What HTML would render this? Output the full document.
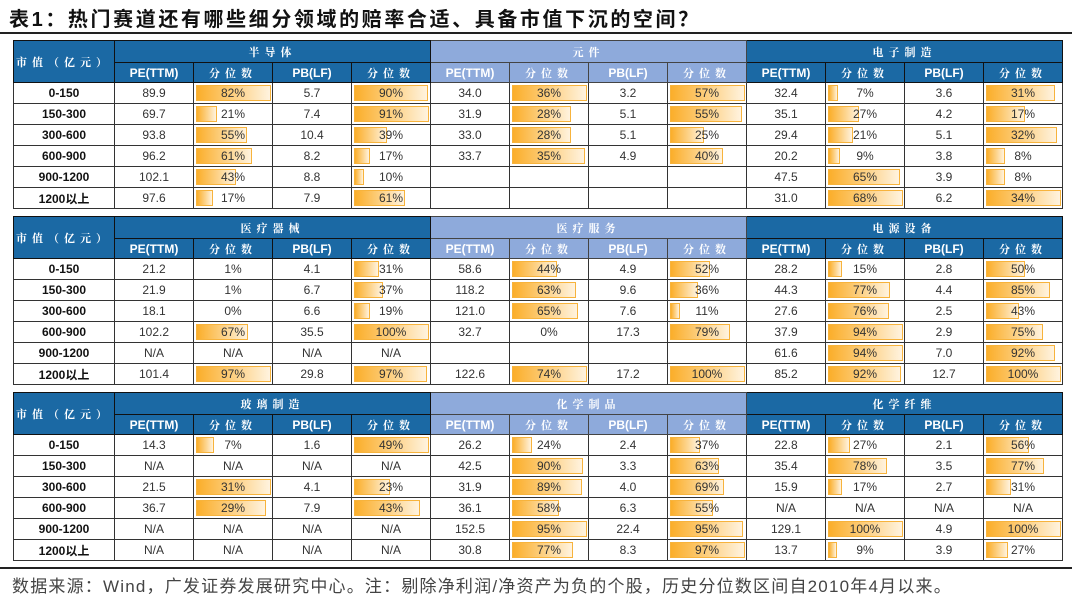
<!DOCTYPE html>
<html><head><meta charset="utf-8">
<style>
body{margin:0;width:1080px;height:602px;background:#fff;position:relative;overflow:hidden;font-family:"Liberation Sans","Noto Sans CJK SC",sans-serif;}
.title{position:absolute;left:9px;top:3px;font-size:20px;font-weight:bold;color:#111;font-family:"Liberation Sans","Noto Sans CJK SC",sans-serif;letter-spacing:2.6px}
.hl{position:absolute;left:0;width:1072px;height:2px;background:#222}
table{position:absolute;left:13px;border-collapse:collapse;table-layout:fixed;width:1050px;border:1.5px solid #222}
td{border:1px solid #333;text-align:center;font-size:12px;color:#333;padding:0;position:relative;overflow:hidden;white-space:nowrap}
tr.h1 td{height:21px}
tr.h2 td{height:19px}
tr.d td{height:20px}
.hd{background:#1b69a4;color:#fff;font-weight:bold;border-color:#111}
.lt{background:#8eaadb;color:#fff;font-weight:bold;border-color:#444}
.cn{font-size:11px;letter-spacing:5px;font-family:"Noto Serif CJK SC",serif}
.lab{font-weight:bold;color:#111}
.b span{position:relative;z-index:1}
.b i{position:absolute;left:2px;top:2px;bottom:2px;background:linear-gradient(to right,#fbae2a,#fdd38a 55%,#fff3df);border:1px solid #f7b33c;box-sizing:border-box}
.foot{position:absolute;left:12px;top:572px;font-size:17px;color:#444;letter-spacing:1.2px}
</style></head><body>
<div class="title">表1：热门赛道还有哪些细分领域的赔率合适、具备市值下沉的空间？</div>
<div class="hl" style="top:32px"></div>

<table style="top:40px">
<colgroup><col style="width:101px"><col span="12" style="width:79px"></colgroup>
<tr class="h1"><td class="hd cn" rowspan="2">市值（亿元）</td><td class="hd cn" colspan="4">半导体</td><td class="lt cn" colspan="4">元件</td><td class="hd cn" colspan="4">电子制造</td></tr>
<tr class="h2"><td class="hd">PE(TTM)</td><td class="hd cn">分位数</td><td class="hd">PB(LF)</td><td class="hd cn">分位数</td><td class="lt">PE(TTM)</td><td class="lt cn">分位数</td><td class="lt">PB(LF)</td><td class="lt cn">分位数</td><td class="hd">PE(TTM)</td><td class="hd cn">分位数</td><td class="hd">PB(LF)</td><td class="hd cn">分位数</td></tr>
<tr class="d"><td class="lab">0-150</td><td>89.9</td><td class="b">82%</td><td>5.7</td><td class="b">90%</td><td>34.0</td><td class="b">36%</td><td>3.2</td><td class="b">57%</td><td>32.4</td><td class="b">7%</td><td>3.6</td><td class="b">31%</td></tr>
<tr class="d"><td class="lab">150-300</td><td>69.7</td><td class="b">21%</td><td>7.4</td><td class="b">91%</td><td>31.9</td><td class="b">28%</td><td>5.1</td><td class="b">55%</td><td>35.1</td><td class="b">27%</td><td>4.2</td><td class="b">17%</td></tr>
<tr class="d"><td class="lab">300-600</td><td>93.8</td><td class="b">55%</td><td>10.4</td><td class="b">39%</td><td>33.0</td><td class="b">28%</td><td>5.1</td><td class="b">25%</td><td>29.4</td><td class="b">21%</td><td>5.1</td><td class="b">32%</td></tr>
<tr class="d"><td class="lab">600-900</td><td>96.2</td><td class="b">61%</td><td>8.2</td><td class="b">17%</td><td>33.7</td><td class="b">35%</td><td>4.9</td><td class="b">40%</td><td>20.2</td><td class="b">9%</td><td>3.8</td><td class="b">8%</td></tr>
<tr class="d"><td class="lab">900-1200</td><td>102.1</td><td class="b">43%</td><td>8.8</td><td class="b">10%</td><td></td><td></td><td></td><td></td><td>47.5</td><td class="b">65%</td><td>3.9</td><td class="b">8%</td></tr>
<tr class="d"><td class="lab">1200以上</td><td>97.6</td><td class="b">17%</td><td>7.9</td><td class="b">61%</td><td></td><td></td><td></td><td></td><td>31.0</td><td class="b">68%</td><td>6.2</td><td class="b">34%</td></tr>
</table>

<table style="top:216px">
<colgroup><col style="width:101px"><col span="12" style="width:79px"></colgroup>
<tr class="h1"><td class="hd cn" rowspan="2">市值（亿元）</td><td class="hd cn" colspan="4">医疗器械</td><td class="lt cn" colspan="4">医疗服务</td><td class="hd cn" colspan="4">电源设备</td></tr>
<tr class="h2"><td class="hd">PE(TTM)</td><td class="hd cn">分位数</td><td class="hd">PB(LF)</td><td class="hd cn">分位数</td><td class="lt">PE(TTM)</td><td class="lt cn">分位数</td><td class="lt">PB(LF)</td><td class="lt cn">分位数</td><td class="hd">PE(TTM)</td><td class="hd cn">分位数</td><td class="hd">PB(LF)</td><td class="hd cn">分位数</td></tr>
<tr class="d"><td class="lab">0-150</td><td>21.2</td><td class="b">1%</td><td>4.1</td><td class="b">31%</td><td>58.6</td><td class="b">44%</td><td>4.9</td><td class="b">52%</td><td>28.2</td><td class="b">15%</td><td>2.8</td><td class="b">50%</td></tr>
<tr class="d"><td class="lab">150-300</td><td>21.9</td><td class="b">1%</td><td>6.7</td><td class="b">37%</td><td>118.2</td><td class="b">63%</td><td>9.6</td><td class="b">36%</td><td>44.3</td><td class="b">77%</td><td>4.4</td><td class="b">85%</td></tr>
<tr class="d"><td class="lab">300-600</td><td>18.1</td><td class="b">0%</td><td>6.6</td><td class="b">19%</td><td>121.0</td><td class="b">65%</td><td>7.6</td><td class="b">11%</td><td>27.6</td><td class="b">76%</td><td>2.5</td><td class="b">43%</td></tr>
<tr class="d"><td class="lab">600-900</td><td>102.2</td><td class="b">67%</td><td>35.5</td><td class="b">100%</td><td>32.7</td><td class="b">0%</td><td>17.3</td><td class="b">79%</td><td>37.9</td><td class="b">94%</td><td>2.9</td><td class="b">75%</td></tr>
<tr class="d"><td class="lab">900-1200</td><td>N/A</td><td>N/A</td><td>N/A</td><td>N/A</td><td></td><td></td><td></td><td></td><td>61.6</td><td class="b">94%</td><td>7.0</td><td class="b">92%</td></tr>
<tr class="d"><td class="lab">1200以上</td><td>101.4</td><td class="b">97%</td><td>29.8</td><td class="b">97%</td><td>122.6</td><td class="b">74%</td><td>17.2</td><td class="b">100%</td><td>85.2</td><td class="b">92%</td><td>12.7</td><td class="b">100%</td></tr>
</table>

<table style="top:392px">
<colgroup><col style="width:101px"><col span="12" style="width:79px"></colgroup>
<tr class="h1"><td class="hd cn" rowspan="2">市值（亿元）</td><td class="hd cn" colspan="4">玻璃制造</td><td class="lt cn" colspan="4">化学制品</td><td class="hd cn" colspan="4">化学纤维</td></tr>
<tr class="h2"><td class="hd">PE(TTM)</td><td class="hd cn">分位数</td><td class="hd">PB(LF)</td><td class="hd cn">分位数</td><td class="lt">PE(TTM)</td><td class="lt cn">分位数</td><td class="lt">PB(LF)</td><td class="lt cn">分位数</td><td class="hd">PE(TTM)</td><td class="hd cn">分位数</td><td class="hd">PB(LF)</td><td class="hd cn">分位数</td></tr>
<tr class="d"><td class="lab">0-150</td><td>14.3</td><td class="b">7%</td><td>1.6</td><td class="b">49%</td><td>26.2</td><td class="b">24%</td><td>2.4</td><td class="b">37%</td><td>22.8</td><td class="b">27%</td><td>2.1</td><td class="b">56%</td></tr>
<tr class="d"><td class="lab">150-300</td><td>N/A</td><td>N/A</td><td>N/A</td><td>N/A</td><td>42.5</td><td class="b">90%</td><td>3.3</td><td class="b">63%</td><td>35.4</td><td class="b">78%</td><td>3.5</td><td class="b">77%</td></tr>
<tr class="d"><td class="lab">300-600</td><td>21.5</td><td class="b">31%</td><td>4.1</td><td class="b">23%</td><td>31.9</td><td class="b">89%</td><td>4.0</td><td class="b">69%</td><td>15.9</td><td class="b">17%</td><td>2.7</td><td class="b">31%</td></tr>
<tr class="d"><td class="lab">600-900</td><td>36.7</td><td class="b">29%</td><td>7.9</td><td class="b">43%</td><td>36.1</td><td class="b">58%</td><td>6.3</td><td class="b">55%</td><td>N/A</td><td>N/A</td><td>N/A</td><td>N/A</td></tr>
<tr class="d"><td class="lab">900-1200</td><td>N/A</td><td>N/A</td><td>N/A</td><td>N/A</td><td>152.5</td><td class="b">95%</td><td>22.4</td><td class="b">95%</td><td>129.1</td><td class="b">100%</td><td>4.9</td><td class="b">100%</td></tr>
<tr class="d"><td class="lab">1200以上</td><td>N/A</td><td>N/A</td><td>N/A</td><td>N/A</td><td>30.8</td><td class="b">77%</td><td>8.3</td><td class="b">97%</td><td>13.7</td><td class="b">9%</td><td>3.9</td><td class="b">27%</td></tr>
</table>

<div class="hl" style="top:567px"></div>
<div class="foot">数据来源：Wind，广发证券发展研究中心。注：剔除净利润/净资产为负的个股，历史分位数区间自2010年4月以来。</div>

<script>
document.querySelectorAll('table').forEach(function(t){
  var rows=t.querySelectorAll('tr.d');
  for(var c=0;c<13;c++){
    var cells=[],mx=0;
    rows.forEach(function(r){var td=r.children[c];if(td&&td.classList.contains('b')){var p=parseFloat(td.textContent);cells.push([td,p]);if(p>mx)mx=p;}});
    cells.forEach(function(x){
      var td=x[0],p=x[1];var txt=td.textContent;td.textContent='';
      if(p>1&&mx>0){var i=document.createElement('i');i.style.width=Math.round(2+73*p/mx)+'px';td.appendChild(i);}
      var s=document.createElement('span');s.textContent=txt;td.appendChild(s);
    });
  }
});
</script>
</body></html>
